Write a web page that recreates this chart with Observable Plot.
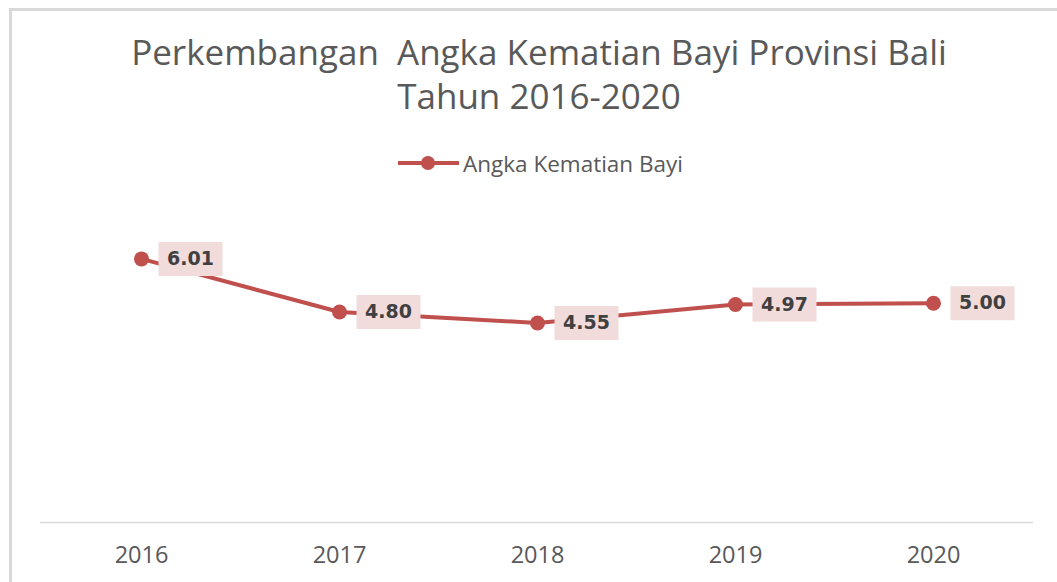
<!DOCTYPE html>
<html>
<head>
<meta charset="utf-8">
<script src="https://cdn.jsdelivr.net/npm/d3@7"></script>
<script src="https://cdn.jsdelivr.net/npm/@observablehq/plot@0.6"></script>
<style>
  html, body { margin: 0; padding: 0; background: #fff; }
  #wrap { position: relative; width: 1057px; height: 582px; overflow: hidden; background: #fff; }
  #frame { position: absolute; left: 9px; top: 8px; width: 1100px; height: 600px; border-left: 3px solid #d9d9d9; border-top: 3px solid #d9d9d9; box-sizing: border-box; }
  #title { position: absolute; left: 0; top: 30px; width: 1078px; text-align: center; font-family: "Open Sans", sans-serif; font-size: 35px; line-height: 44px; color: #595959; }
  #legend { position: absolute; left: 398px; top: 149px; height: 28px; display: flex; align-items: center; font-family: "Open Sans", sans-serif; font-size: 22.5px; color: #595959; }
  #legend svg { margin-right: 4px; }
  #chart { position: absolute; left: 0; top: 0; }
</style>
</head>
<body>
<div id="wrap">
  <div id="chart"></div>
  <div id="frame"></div>
  <div id="title">Perkembangan&nbsp; Angka Kematian Bayi Provinsi Bali<br>Tahun 2016-2020</div>
  <div id="legend"><svg width="61" height="16"><line x1="0" x2="61" y1="8" y2="8" stroke="#c0504d" stroke-width="4"/><circle cx="30" cy="8" r="7" fill="#c0504d"/></svg><span>Angka Kematian Bayi</span></div>
</div>
<script>
const years = ["2016", "2017", "2018", "2019", "2020"];
const values = [6.01, 4.80, 4.55, 4.97, 5.00];
const seriesName = "Angka Kematian Bayi";

const data = years.map((y, i) => ({year: y, value: values[i]}));

const labelBox = {
  draw(context) { context.rect(17, -17, 64, 34); }
};

const chart = Plot.plot({
  width: 1057,
  height: 582,
  marginTop: 215,
  marginBottom: 60,
  marginLeft: 40,
  marginRight: 24,
  x: {type: "point", domain: years, padding: 0.5},
  y: {domain: [0, 7], axis: null},
  style: {background: "transparent", overflow: "visible"},
  marks: [
    Plot.ruleY([0], {stroke: "#d9d9d9", strokeWidth: 1.5}),
    Plot.axisX({tickSize: 0, tickPadding: 24, fontSize: 23.5, fill: "#595959", fontFamily: "Open Sans, sans-serif", label: null}),
    Plot.line(data, {x: "year", y: "value", stroke: "#c0504d", strokeWidth: 4}),
    Plot.dot(data, {x: "year", y: "value", r: 7.5, fill: "#c0504d", stroke: null}),
    Plot.dot(data, {x: "year", y: "value", symbol: labelBox, fill: "#f2dcdb", stroke: null}),
    Plot.text(data, {x: "year", y: "value", text: d => d.value.toFixed(2), dx: 49, textAnchor: "middle", fontSize: 19, fontWeight: "bold", fill: "#404040", fontFamily: "DejaVu Sans, sans-serif"})
  ]
});
document.getElementById("chart").appendChild(chart);
</script>
</body>
</html>
